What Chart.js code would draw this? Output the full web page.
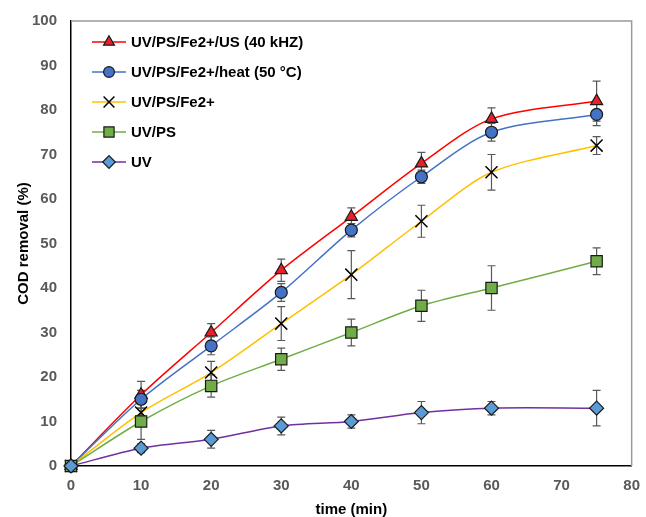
<!DOCTYPE html>
<html>
<head>
<meta charset="utf-8">
<script src="https://cdn.jsdelivr.net/npm/chart.js@4/dist/chart.umd.min.js"></script>
<style>
  body { margin: 0; background: #fff; }
  #wrap { width: 646px; height: 517px; }
</style>
</head>
<body>
<div id="wrap"><canvas id="codChart" width="646" height="517"></canvas></div>
<script>
const times = [0, 10, 20, 30, 40, 50, 60, 75];

const labels = ["UV/PS/Fe2+/US (40 kHZ)", "UV/PS/Fe2+/heat (50 °C)", "UV/PS/Fe2+", "UV/PS", "UV"];

const usValues   = [0, 16, 30, 44, 56, 68, 78, 82];
const heatValues = [0, 15, 27, 39, 53, 65, 75, 79];
const feValues   = [0, 12, 21, 32, 43, 55, 66, 72];
const psValues   = [0, 10, 18, 24, 30, 36, 40, 46];
const uvValues   = [0, 4, 6, 9, 10, 12, 13, 13];

// error bar half-heights
const usErr   = [0, 3, 2, 2.5, 2, 2.5, 2.5, 4.5];
const heatErr = [0, 2, 2, 2, 1.5, 1.5, 2, 2.5];
const feErr   = [0, 2, 2.5, 3.8, 5.4, 3.6, 4, 2];
const psErr   = [0, 4, 2.5, 2.5, 3, 3.5, 5, 3];
const uvErr   = [0, 1, 2, 2, 1.5, 2.5, 1.5, 4];

const tickFont = { family: "'Liberation Sans', Arial, sans-serif", size: 15, weight: "bold" };

function series(label, values, errs, line, marker, style, radius, order) {
  return {
    label,
    data: times.map((t, i) => ({ x: t, y: values[i] })),
    errors: errs,
    borderColor: line,
    borderWidth: 1.5,
    backgroundColor: marker,
    pointStyle: style,
    pointRadius: radius,
    pointBorderColor: style === "crossRot" ? "#000" : "#1a1a1a",
    pointBorderWidth: style === "crossRot" ? 1.5 : 1.2,
    pointBackgroundColor: marker,
    tension: 0.3,
    fill: false,
    clip: false,
    order // later series sit on top, like the original
  };
}

const datasets = [
  series(labels[0], usValues, usErr, "#FF0000", "#E8202A", "triangle", 7, 4),
  series(labels[1], heatValues, heatErr, "#4472C4", "#4472C4", "circle", 6, 3),
  series(labels[2], feValues, feErr, "#FFC000", "#000", "crossRot", 8.5, 2),
  series(labels[3], psValues, psErr, "#70AD47", "#70AD47", "rect", 8, 1),
  series(labels[4], uvValues, uvErr, "#7030A0", "#5B9BD5", "rectRot", 7, 0)
];

// error bars drawn under the lines and markers
const errorBars = {
  id: "errorBars",
  beforeDatasetsDraw(c) {
    const ctx = c.ctx;
    const xs = c.scales.x, ys = c.scales.y;
    ctx.save();
    ctx.strokeStyle = "#595959";
    ctx.lineWidth = 1.2;
    c.data.datasets.forEach(ds => {
      ds.data.forEach((p, i) => {
        const e = ds.errors[i];
        if (!e) return;
        const x = xs.getPixelForValue(p.x);
        const y1 = ys.getPixelForValue(p.y + e);
        const y2 = ys.getPixelForValue(p.y - e);
        ctx.beginPath();
        ctx.moveTo(x, y1); ctx.lineTo(x, y2);
        ctx.moveTo(x - 4, y1); ctx.lineTo(x + 4, y1);
        ctx.moveTo(x - 4, y2); ctx.lineTo(x + 4, y2);
        ctx.stroke();
      });
    });
    ctx.restore();
  }
};

// frame on top/right plus legend inside the plot
const frameAndLegend = {
  id: "frameAndLegend",
  afterDraw(c) {
    const ctx = c.ctx;
    const a = c.chartArea;
    ctx.save();
    ctx.strokeStyle = "#9a9a9a";
    ctx.lineWidth = 1.5;
    ctx.beginPath();
    ctx.moveTo(a.left, a.top);
    ctx.lineTo(a.right, a.top);
    ctx.lineTo(a.right, a.bottom);
    ctx.stroke();

    ctx.font = "bold 15px 'Liberation Sans', Arial, sans-serif";
    ctx.textBaseline = "middle";
    ctx.fillStyle = "#000";
    c.data.datasets.forEach((ds, i) => {
      const y = 42 + i * 30;
      ctx.strokeStyle = ds.borderColor;
      ctx.lineWidth = 1.5;
      ctx.beginPath();
      ctx.moveTo(92, y); ctx.lineTo(126, y);
      ctx.stroke();
      ctx.fillStyle = ds.pointBackgroundColor;
      ctx.strokeStyle = ds.pointBorderColor;
      ctx.lineWidth = ds.pointBorderWidth;
      Chart.helpers.drawPoint(ctx, { pointStyle: ds.pointStyle, radius: ds.pointRadius * 0.9, rotation: 0, borderWidth: ds.pointBorderWidth }, 109, y);
      ctx.fillStyle = "#000";
      ctx.fillText(ds.label, 131, y + 1);
    });
    ctx.restore();
  }
};

new Chart(document.getElementById("codChart"), {
  type: "line",
  data: { datasets },
  options: {
    responsive: false,
    animation: false,
    layout: { padding: { top: 21, right: 9, left: 0, bottom: 0 } },
    plugins: { legend: { display: false }, tooltip: { enabled: false } },
    scales: {
      x: {
        type: "linear",
        min: 0, max: 80,
        ticks: { stepSize: 10, color: "#595959", font: tickFont, padding: 6 },
        grid: { display: false, drawTicks: true, tickLength: 5 },
        border: { color: "#000", width: 1.5 },
        title: { display: true, text: "time (min)", color: "#000", font: tickFont, padding: { top: 8, bottom: -2 } },
        afterFit(s) { s.height = 51; }
      },
      y: {
        min: 0, max: 100,
        ticks: { stepSize: 10, color: "#595959", font: tickFont, padding: 9 },
        grid: { display: false, drawTicks: true, tickLength: 5 },
        border: { color: "#000", width: 1.5 },
        title: { display: true, text: "COD removal (%)", color: "#000", font: tickFont, padding: { top: 15, bottom: 4 } },
        afterFit(s) { s.width = 71; }
      }
    }
  },
  plugins: [errorBars, frameAndLegend]
});
</script>
</body>
</html>
